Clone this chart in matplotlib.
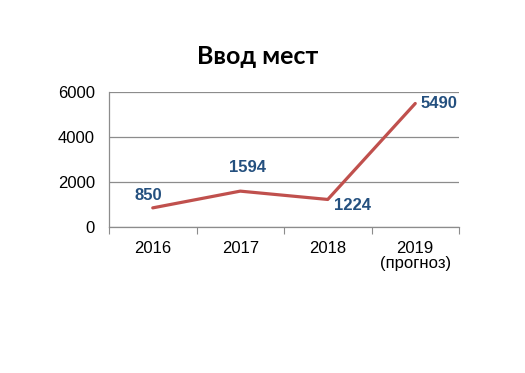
import matplotlib
matplotlib.use("Agg")
import matplotlib.pyplot as plt

categories = ["2016", "2017", "2018", "2019\n(прогноз)"]
values = [850, 1594, 1224, 5490]
yticks = [0, 2000, 4000, 6000]

fig = plt.figure(figsize=(5.25, 3.73), dpi=100)
ax = fig.add_axes([109/525, 1-227/373, 350/525, 135/373])

x = list(range(len(values)))
ax.plot(x, values, color="#C0504D", lw=2.3, solid_capstyle="round", solid_joinstyle="round")

ax.set_xlim(-0.5, 3.5)
ax.set_ylim(0, 6000)
ax.set_yticks(yticks)
ax.set_yticklabels([str(v) for v in yticks], fontsize=12, family="Liberation Sans")
ax.tick_params(axis="y", length=0, pad=10)
ax.grid(axis="y", color="#8c8c8c", lw=0.9)
ax.set_axisbelow(True)

ax.set_xticks([-0.5, 0.5, 1.5, 2.5, 3.5])
ax.set_xticklabels([])
ax.tick_params(axis="x", which="major", length=5, color="#8c8c8c", direction="out")
ax.set_xticks(x, minor=True)
ax.set_xticklabels(categories, minor=True, fontsize=12, family="Liberation Sans", linespacing=1.05)
ax.tick_params(axis="x", which="minor", length=0, pad=10)

for s in ["top", "right"]:
    ax.spines[s].set_visible(False)
for s in ["left", "bottom"]:
    ax.spines[s].set_color("#8c8c8c")
    ax.spines[s].set_linewidth(0.9)

offsets = [(-3, 9), (5, 17), (18, -4), (17, 0)]
for xi, v, off in zip(x, values, offsets):
    ax.annotate(str(v), (xi, v), xytext=off, textcoords="offset points",
                ha="center", va="center", fontsize=12, fontweight="bold",
                color="#24507F", family="Liberation Sans")

fig.text(258/525, 1-57/373, "Ввод мест", ha="center", va="center",
         fontsize=18, fontweight="bold", family="Lato")

fig.savefig("out.png", dpi=100)
